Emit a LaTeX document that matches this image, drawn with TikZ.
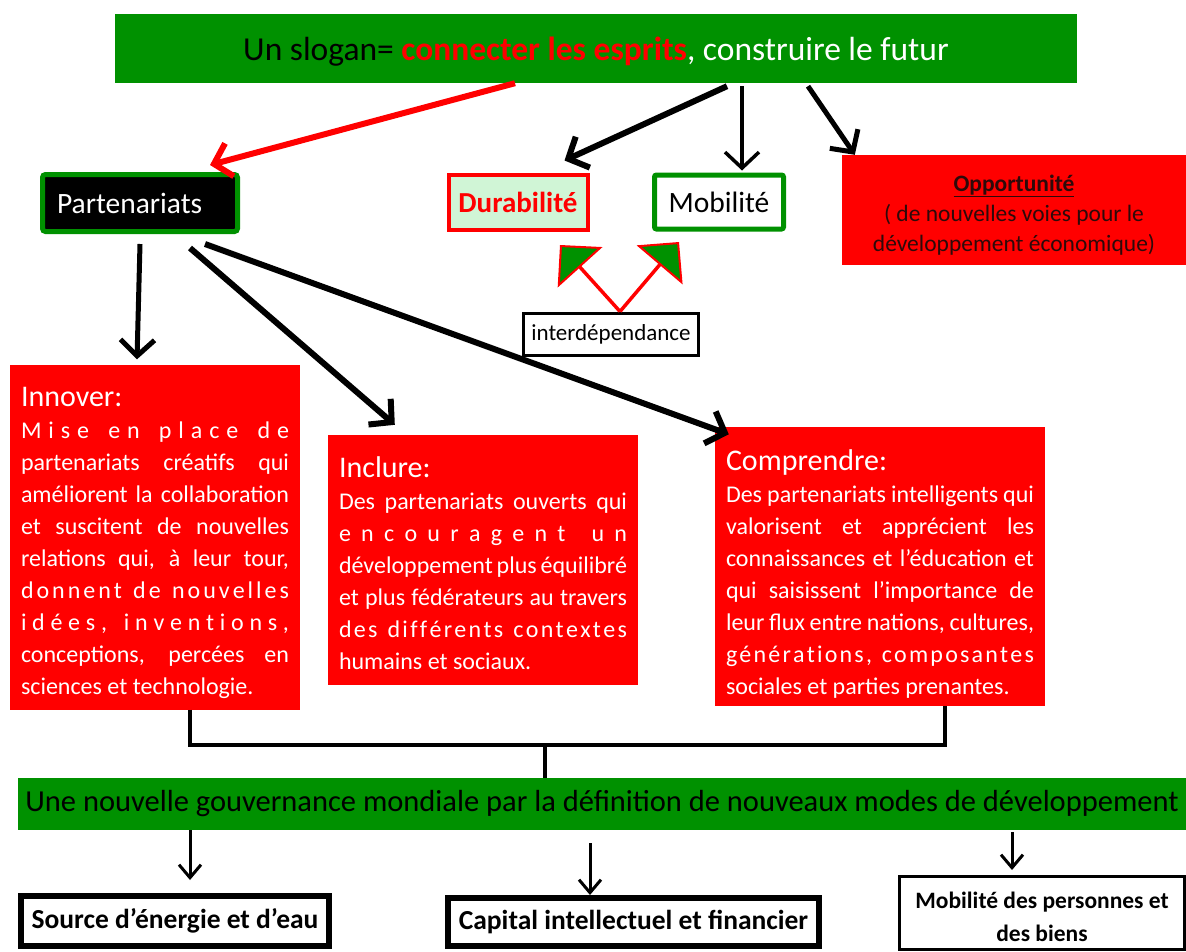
\documentclass[tikz,border=0pt]{standalone}
\usepackage{fontspec}
\setmainfont{Carlito}
\usetikzlibrary{arrows.meta}

\definecolor{ggreen}{RGB}{0,145,0}
\definecolor{lgreen}{RGB}{208,245,214}
\definecolor{bred}{RGB}{255,0,0}
\definecolor{dtext}{RGB}{45,10,10}

% one justified line of a box
\newcommand\jl[1]{\makebox[\linewidth][s]{#1}}

\begin{document}
\begin{tikzpicture}[x=1pt,y=-1pt,
greenbar/.style={fill=ggreen, inner sep=0pt, align=center},
redbox/.style={fill=bred, text=white, inner sep=0pt, align=left,
  font=\fontsize{24}{32}\selectfont,
  execute at begin node={\spaceskip=0pt\xspaceskip=0pt}},
lowbox/.style={draw=black, fill=white, inner sep=0pt, align=center,
  font=\bfseries\fontsize{27.5}{30}\selectfont},
barb/.style={-{Straight Barb[length=16pt,width=34pt]}, line width=6pt},
thinbarb/.style={-{Straight Barb[length=13pt,width=22pt]}, line width=3pt},
linkarrow/.style={-{Triangle[length=30pt,width=60pt,fill=ggreen,line width=2pt]},
  line width=3.5pt, draw=bred}
]
\useasboundingbox (0,0) rectangle (1186,951);

% top of the diagram
\node[greenbar, minimum width=962, minimum height=69,
  font=\fontsize{33.5}{40}\selectfont] (slogan) at (596,48.5)
  {\rule{0pt}{30pt}Un slogan= {\color{bred}\textbf{connecter les esprits}}{\color{white}, construire le futur}};

\node[draw=ggreen, line width=5pt, fill=black, rounded corners=3pt, text=white,
  minimum width=195, minimum height=57, inner xsep=14.5pt, inner ysep=0pt,
  text width=166, align=left,
  font=\fontsize{29.5}{34}\selectfont] (part) at (140,203) {Partenariats};
\node[draw=bred, line width=4pt, fill=lgreen, text=bred, minimum width=139,
  minimum height=55, inner sep=0pt,
  font=\bfseries\fontsize{29}{34}\selectfont] (durab) at (518,202) {Durabilité};
\node[draw=ggreen, line width=5pt, fill=white, rounded corners=2pt,
  minimum width=129, minimum height=54, inner sep=0pt,
  font=\fontsize{29.5}{34}\selectfont] (mobil) at (719,202) {Mobilité};
\node[fill=bred, text=dtext, minimum width=344, minimum height=110, inner sep=0pt,
  align=center, font=\fontsize{23.5}{30}\selectfont] (opp) at (1014,210)
  {\rule{0pt}{26pt}\underline{\textbf{Opportunité}}\\( de nouvelles voies pour le\\développement économique)};
\node[draw=black, line width=3pt, fill=white, minimum width=175, minimum height=42,
  inner sep=0pt, font=\fontsize{23}{26}\selectfont] (interd) at (611,334) {interdépendance};

% three boxes
\node[redbox, text width=268, minimum width=290, minimum height=345] (innover) at (155,537) {%
{\fontsize{30}{36}\selectfont\rule{0pt}{32pt}Innover:}\\
\jl{M\hfill i\hfill s\hfill e\hfill\ \hfill e\hfill n\hfill\ \hfill p\hfill l\hfill a\hfill c\hfill e\hfill\ \hfill d\hfill e}\\
\jl{partenariats créatifs qui}\\
\jl{améliorent la collaboration}\\
\jl{et suscitent de nouvelles}\\
\jl{relations qui, à leur tour,}\\
\jl{d\hfill o\hfill n\hfill n\hfill e\hfill n\hfill t\hfill\ \hfill d\hfill e\hfill\ \hfill n\hfill o\hfill u\hfill v\hfill e\hfill l\hfill l\hfill e\hfill s}\\
\jl{i\hfill d\hfill é\hfill e\hfill s\hfill ,\hfill\ \hfill i\hfill n\hfill v\hfill e\hfill n\hfill t\hfill i\hfill o\hfill n\hfill s\hfill ,}\\
\jl{conceptions, percées en}\\
sciences et technologie.};

\node[redbox, text width=288, minimum width=310, minimum height=250] (inclure) at (483,560) {%
{\fontsize{30}{36}\selectfont\rule{0pt}{28pt}Inclure:}\\
\jl{Des partenariats ouverts qui}\\
\jl{e\hfill n\hfill c\hfill o\hfill u\hfill r\hfill a\hfill g\hfill e\hfill n\hfill t\hfill\ \hfill u\hfill n}\\
\jl{développement plus équilibré}\\
\jl{et plus fédérateurs au travers}\\
\jl{d\hfill e\hfill s\hfill\ \hfill d\hfill i\hfill f\hfill f\hfill é\hfill r\hfill e\hfill n\hfill t\hfill s\hfill\ \hfill c\hfill o\hfill n\hfill t\hfill e\hfill x\hfill t\hfill e\hfill s}\\
humains et sociaux.};

\node[redbox, text width=308, minimum width=330, minimum height=279] (compr) at (880,566) {%
{\fontsize{30}{36}\selectfont\rule{0pt}{36pt}Comprendre:}\\
\jl{Des partenariats intelligents qui}\\
\jl{valorisent et apprécient les}\\
\jl{connaissances et l’éducation et}\\
\jl{qui saisissent l’importance de}\\
\jl{leur flux entre nations, cultures,}\\
\jl{g\hfill é\hfill n\hfill é\hfill r\hfill a\hfill t\hfill i\hfill o\hfill n\hfill s\hfill ,\hfill\ \hfill c\hfill o\hfill m\hfill p\hfill o\hfill s\hfill a\hfill n\hfill t\hfill e\hfill s}\\
sociales et parties prenantes.};

% bottom of the diagram
\node[greenbar, minimum width=1168, minimum height=52,
  font=\fontsize{30.5}{34}\selectfont] (gouv) at (602,804)
  {Une nouvelle gouvernance mondiale par la définition de nouveaux modes de développement};

\node[lowbox, line width=6pt, minimum width=308, minimum height=50] (source) at (175,921)
  {Source d’énergie et d’eau};
\node[lowbox, line width=6pt, minimum width=371, minimum height=48] (capital) at (633.5,922)
  {Capital intellectuel et financier};
\node[lowbox, line width=3pt, minimum width=285, minimum height=73,
  font=\bfseries\fontsize{23.5}{33}\selectfont] (biens) at (1042,913)
  {\rule{0pt}{24pt}Mobilité des personnes et\\des biens};

% arrows
\draw[barb, bred] ([xshift=-81pt]slogan.south) -- ([xshift=-30pt,yshift=7pt]part.north east);
\draw[barb] ([xshift=131pt,yshift=-3pt]slogan.south) -- ([xshift=-25pt,yshift=12pt]durab.north east);
\draw[barb, line width=3.5pt] ([xshift=146pt,yshift=-3pt]slogan.south) -- ([xshift=23pt,yshift=2pt]mobil.north);
\draw[barb, line width=5pt] ([xshift=212pt,yshift=-3pt]slogan.south) -- ([xshift=13pt]opp.north west);

\draw[barb, line width=5pt] ([yshift=-10pt]part.south) -- ([xshift=-18pt,yshift=5pt]innover.north);
\draw[barb] ([xshift=50pt,yshift=-14pt]part.south) -- ([xshift=67pt,yshift=10pt]inclure.north west);
\draw[barb] ([xshift=65pt,yshift=-10pt]part.south) -- ([xshift=14pt,yshift=-8pt]compr.north west);

\draw[linkarrow] ([xshift=9pt]interd.north) -- ([xshift=42pt,yshift=-13.5pt]durab.south);
\draw[linkarrow] ([xshift=9pt]interd.north) -- ([xshift=-40pt,yshift=-10.5pt]mobil.south);

\coordinate (join) at (545,745);
\draw[line width=4pt] ([xshift=35pt]innover.south) |- (join) -| ([xshift=65pt]compr.south);
\draw[line width=4pt] (join) -- (join |- gouv.north);

\draw[thinbarb] ([xshift=-412pt]gouv.south) -- ([xshift=15pt,yshift=13pt]source.north);
\draw[thinbarb] ([xshift=-12pt,yshift=-13pt]gouv.south) -- ([xshift=-43.5pt]capital.north);
\draw[thinbarb] ([xshift=410pt,yshift=-2pt]gouv.south) -- ([xshift=-30pt,yshift=5pt]biens.north);

\end{tikzpicture}
\end{document}
